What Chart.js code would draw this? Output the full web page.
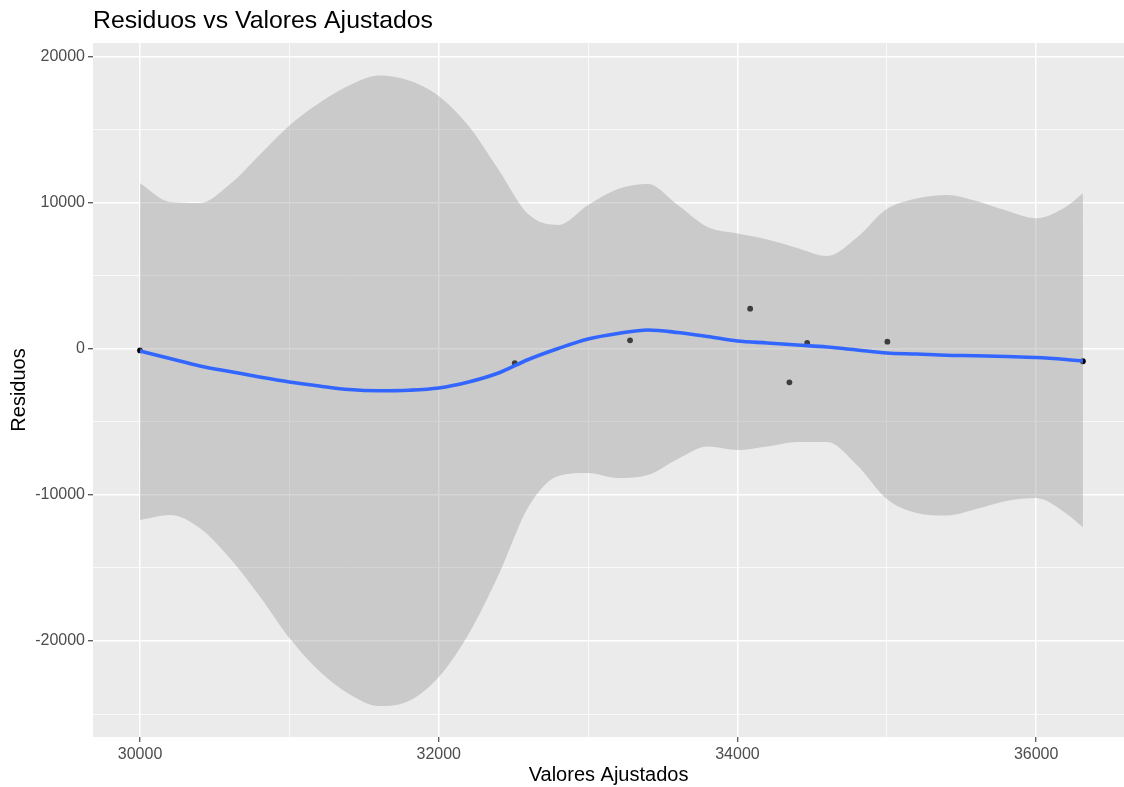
<!DOCTYPE html>
<html lang="es">
<head>
<meta charset="utf-8">
<title>Residuos vs Valores Ajustados</title>
<script src="https://cdn.jsdelivr.net/npm/chart.js@4.4.1/dist/chart.umd.min.js"></script>
<style>
  html, body { margin: 0; padding: 0; background: #ffffff; overflow: hidden; }
  #wrap { position: relative; width: 1124px; height: 787px; overflow: hidden; }
</style>
</head>
<body>
<div id="wrap"><canvas id="chart" width="1127" height="787"></canvas></div>
<script>
// Observed points: fitted values and their residuals
const fittedValues = [30000, 32509, 33281, 34085, 34348, 34467, 35004, 36313];
const residuals    = [-100, -979, 596, 2760, -2281, 411, 500, -842];

// Smoothed trend (loess) with its confidence band
const smoothX = [30000, 30200, 30400, 30600, 30800, 31000, 31200, 31400, 31600, 31800,
                 32000, 32200, 32400, 32600, 32800, 33000, 33200, 33400, 33600, 33800,
                 34000, 34200, 34400, 34600, 34800, 35000, 35200, 35400, 35600, 35800,
                 36000, 36200, 36313];
const smoothY = [-137, -651, -1164, -1541, -1918, -2260, -2534, -2774, -2856, -2822,
                 -2671, -2260, -1644, -719, 34, 685, 1062, 1301, 1130, 856,
                 548, 411, 274, 137, -68, -274, -342, -425, -459, -514,
                 -582, -719, -822];
const bandUpper = [11349, 10068, 10000, 11267, 13287, 15308, 16849, 18047, 18732, 18390,
                   17328, 15273, 12300, 9219, 8493, 9863, 10959, 11301, 9863, 8356,
                   7911, 7500, 6918, 6370, 7637, 9589, 10308, 10548, 10137, 9486,
                   8952, 9746, 10664];
const bandLower = [-11712, -11369, -12260, -14314, -16917, -19794, -22054, -23629, -24451, -24108,
                   -22465, -19520, -15479, -10821, -8698, -8493, -8835, -8630, -7534, -6678,
                   -6917, -6678, -6370, -6370, -7950, -10274, -11232, -11404, -10958, -10410,
                   -10205, -11253, -12212];

// Axis breaks: labelled (major) and unlabelled (minor)
const xMajorTicks = [30000, 32000, 34000, 36000];
const xMinorTicks = [31000, 33000, 35000];
const yMajorTicks = [-20000, -10000, 0, 10000, 20000];
const yMinorTicks = [-25000, -15000, -5000, 5000, 15000];

const FONT = "'Liberation Sans', Arial, Helvetica, sans-serif";
Chart.defaults.font.family = FONT;

const toXY = (xs, ys) => xs.map((x, i) => ({ x: x, y: ys[i] }));

const isMajor = (list) => (ctx) => ctx.tick && list.includes(ctx.tick.value);

// Grey panel behind the plotting region
const panelBackground = {
  id: 'panelBackground',
  beforeDraw(chart) {
    const a = chart.chartArea;
    const c = chart.ctx;
    c.save();
    c.fillStyle = '#EBEBEB';
    c.fillRect(a.left, a.top, a.right - a.left, a.bottom - a.top);
    c.restore();
  }
};

function axisOptions(min, max, major, minor, size, title, titlePadding) {
  const all = major.concat(minor).sort((a, b) => a - b);
  const majorTest = isMajor(major);
  return {
    type: 'linear',
    min: min,
    max: max,
    afterBuildTicks: (scale) => { scale.ticks = all.map(v => ({ value: v })); },
    afterFit: (scale) => {
      if (scale.isHorizontal()) {
        scale.height = size;
        scale.paddingRight = 0;
        scale.paddingLeft = 0;
      } else {
        scale.width = size;
      }
    },
    border: { display: false },
    grid: {
      drawTicks: true,
      tickLength: 5,
      tickWidth: 1.1,
      tickColor: (ctx) => majorTest(ctx) ? '#333333' : 'rgba(0,0,0,0)',
      color: '#FFFFFF',
      lineWidth: (ctx) => majorTest(ctx) ? 1.5 : 0.75
    },
    ticks: {
      autoSkip: false,
      maxRotation: 0,
      minRotation: 0,
      padding: 3,
      color: '#4D4D4D',
      font: { size: 16 },
      callback: (value) => major.includes(value) ? String(value) : ''
    },
    title: {
      display: true,
      text: title,
      color: '#000000',
      font: { size: 20 },
      padding: titlePadding
    }
  };
}

const chart = new Chart(document.getElementById('chart'), {
  data: {
    datasets: [
      {
        type: 'scatter',
        label: 'Residuos',
        data: toXY(fittedValues, residuals),
        pointRadius: 2.9,
        pointHoverRadius: 2.9,
        pointBackgroundColor: '#000000',
        pointBorderWidth: 0,
        showLine: false,
        order: 3
      },
      {
        type: 'line',
        label: 'IC inferior',
        data: toXY(smoothX, bandLower),
        borderWidth: 0,
        borderColor: 'rgba(0,0,0,0)',
        pointRadius: 0,
        cubicInterpolationMode: 'monotone',
        fill: false,
        order: 2
      },
      {
        type: 'line',
        label: 'IC superior',
        data: toXY(smoothX, bandUpper),
        borderWidth: 0,
        borderColor: 'rgba(0,0,0,0)',
        backgroundColor: 'rgba(153,153,153,0.4)',
        pointRadius: 0,
        cubicInterpolationMode: 'monotone',
        fill: 1,
        order: 2
      },
      {
        type: 'line',
        label: 'Loess',
        data: toXY(smoothX, smoothY),
        borderColor: '#3366FF',
        borderWidth: 3.6,
        pointRadius: 0,
        cubicInterpolationMode: 'monotone',
        fill: false,
        order: 0
      }
    ]
  },
  options: {
    responsive: false,
    animation: false,
    devicePixelRatio: 1,
    layout: { padding: 0 },
    plugins: {
      legend: { display: false },
      tooltip: { enabled: false },
      title: {
        display: true,
        text: 'Residuos vs Valores Ajustados',
        align: 'start',
        fullSize: false,
        color: '#000000',
        font: { size: 24.8, weight: 'normal' },
        padding: { top: 6.6, bottom: 6.6 }
      }
    },
    scales: {
      x: axisOptions(29685, 36589, xMajorTicks, xMinorTicks, 50, 'Valores Ajustados', { top: 0, bottom: 0 }),
      y: axisOptions(-26575, 20959, yMajorTicks, yMinorTicks, 93, 'Residuos', { top: 7, bottom: 0 })
    }
  },
  plugins: [panelBackground]
});
</script>
</body>
</html>
